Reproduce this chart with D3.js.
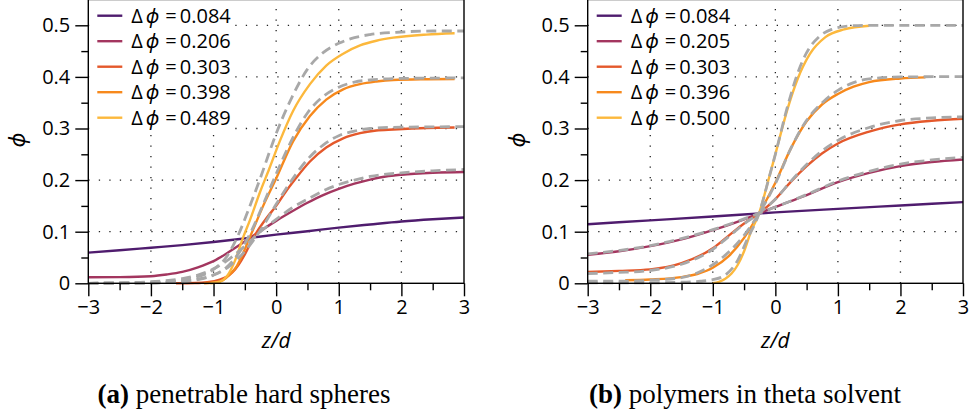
<!DOCTYPE html>
<html><head><meta charset="utf-8">
<script src="https://cdn.jsdelivr.net/npm/d3@7"></script>
<style>
html,body{margin:0;padding:0;background:#fff;}
svg{display:block;}
</style></head>
<body>
<script>
// ---------- data ----------
const zTicks = [-3, -2, -1, 0, 1, 2, 3];
const phiTicks = [0, 0.1, 0.2, 0.3, 0.4, 0.5];
const zMinor = [-2.5, -1.5, -0.5, 0.5, 1.5, 2.5];
const phiMinor = [0.05, 0.15, 0.25, 0.35, 0.45];
const seriesColors = ["#4f1c6e", "#a3365f", "#e4582b", "#f7891c", "#fcb83c"];

// (a) penetrable hard spheres
const aLabels = ["0.084", "0.206", "0.303", "0.398", "0.489"];
const aSolid084 = [[-3,0.0595],[-2.5,0.064],[-2,0.069],[-1.5,0.074],[-1,0.080],[-0.5,0.087],[0,0.0944],[0.5,0.101],[1,0.108],[1.5,0.114],[2,0.1197],[2.5,0.124],[3,0.1274]];
const aSolid206 = [[-3,0.0116],[-2.5,0.012],[-2,0.0138],[-1.75,0.017],[-1.5,0.022],[-1.25,0.031],[-1,0.043],[-0.75,0.061],[-0.5,0.081],[-0.25,0.1015],[0,0.121],[0.25,0.139],[0.5,0.156],[0.75,0.171],[1,0.183],[1.25,0.193],[1.5,0.201],[1.75,0.207],[2,0.2105],[2.5,0.2142],[3,0.2157]];
const aSolid303 = [[-1.6,0.0],[-1.3,0.0005],[-1.1,0.002],[-0.9,0.007],[-0.8,0.012],[-0.7,0.021],[-0.6,0.036],[-0.5,0.056],[-0.4,0.080],[-0.3,0.101],[-0.15,0.127],[0,0.150],[0.15,0.177],[0.3,0.201],[0.54,0.236],[0.8,0.263],[1.07,0.281],[1.34,0.291],[1.6,0.296],[1.87,0.298],[2.4,0.301],[2.85,0.302]];
const aSolid398 = [[-1.15,0.0],[-0.95,0.002],[-0.85,0.006],[-0.75,0.016],[-0.63,0.033],[-0.5,0.066],[-0.365,0.105],[-0.2,0.152],[0,0.203],[0.27,0.275],[0.54,0.324],[0.8,0.356],[1.07,0.376],[1.34,0.386],[1.6,0.391],[1.87,0.394],[2.4,0.3955],[2.85,0.396]];
const aSolid489 = [[-1.05,0.0],[-0.9,0.003],[-0.79,0.013],[-0.66,0.043],[-0.53,0.088],[-0.42,0.122],[-0.26,0.176],[-0.11,0.222],[0.06,0.276],[0.27,0.334],[0.54,0.386],[0.8,0.422],[1.07,0.445],[1.34,0.461],[1.6,0.470],[1.87,0.476],[2.4,0.482],[2.85,0.4845]];
const aDash206 = [[-3,0],[-2.5,0.001],[-2,0.003],[-1.5,0.009],[-1.25,0.016],[-1,0.028],[-0.75,0.047],[-0.5,0.072],[-0.25,0.100],[0,0.124],[0.25,0.146],[0.5,0.163],[0.75,0.179],[1,0.1915],[1.25,0.200],[1.5,0.207],[2,0.214],[2.5,0.218],[3,0.2205]];
const aDash303 = [[-3,0],[-2,0.001],[-1.5,0.004],[-1.25,0.008],[-1,0.016],[-0.75,0.033],[-0.5,0.062],[-0.25,0.103],[0,0.153],[0.25,0.200],[0.5,0.240],[0.75,0.268],[1,0.286],[1.25,0.295],[1.5,0.300],[2,0.3025],[3,0.3035]];
const aDash398 = [[-3,0],[-2,0.0005],[-1.5,0.003],[-1.25,0.007],[-1,0.016],[-0.8,0.030],[-0.6,0.058],[-0.4,0.100],[-0.2,0.155],[0,0.212],[0.25,0.278],[0.5,0.330],[0.75,0.362],[1,0.380],[1.25,0.390],[1.5,0.394],[2,0.397],[3,0.398]];
const aDash489 = [[-3,0],[-2,0.001],[-1.6,0.004],[-1.3,0.011],[-1,0.027],[-0.8,0.050],[-0.6,0.095],[-0.45,0.140],[-0.25,0.205],[0,0.290],[0.25,0.360],[0.5,0.415],[0.75,0.447],[1,0.465],[1.25,0.476],[1.5,0.482],[2,0.487],[2.5,0.489],[3,0.489]];

// (b) polymers in theta solvent
const bLabels = ["0.084", "0.205", "0.303", "0.396", "0.500"];
const bSolid084 = [[-3,0.1145],[-2,0.122],[-1,0.1295],[0,0.1375],[1,0.1443],[2,0.1508],[3,0.1573]];
const bSolid205 = [[-3,0.055],[-2.5,0.062],[-2,0.072],[-1.5,0.085],[-1,0.103],[-0.5,0.124],[-0.26,0.1357],[0,0.148],[0.5,0.171],[1,0.196],[1.5,0.214],[2,0.227],[2.5,0.235],[3,0.240]];
const bSolid303 = [[-3,0.022],[-2.5,0.024],[-2,0.027],[-1.5,0.039],[-1,0.068],[-0.75,0.092],[-0.5,0.116],[-0.26,0.1357],[0,0.163],[0.25,0.197],[0.5,0.227],[0.75,0.252],[1,0.271],[1.5,0.294],[2,0.308],[2.5,0.315],[3,0.319]];
const bSolid396 = [[-2.4,0.006],[-2,0.0075],[-1.5,0.012],[-1.25,0.018],[-1,0.030],[-0.75,0.052],[-0.5,0.088],[-0.26,0.1357],[0,0.195],[0.25,0.262],[0.5,0.314],[0.75,0.347],[1,0.367],[1.25,0.381],[1.5,0.390],[2,0.397],[2.4,0.399]];
const bSolid500 = [[-1.0,0.0],[-0.9,0.003],[-0.8,0.009],[-0.7,0.019],[-0.6,0.036],[-0.5,0.062],[-0.4,0.097],[-0.26,0.1357],[-0.1,0.205],[0,0.250],[0.2,0.340],[0.35,0.394],[0.55,0.444],[0.8,0.477],[1.1,0.492],[1.5,0.499]];
const bDash205 = [[-3,0.057],[-2,0.073],[-1,0.104],[-0.26,0.1357],[0.5,0.172],[1,0.198],[1.5,0.217],[2,0.231],[2.5,0.239],[3,0.244]];
const bDash303 = [[-3,0.019],[-2.5,0.021],[-2,0.025],[-1.5,0.037],[-1,0.066],[-0.75,0.090],[-0.5,0.115],[-0.26,0.1357],[0,0.163],[0.25,0.198],[0.5,0.230],[0.75,0.257],[1,0.277],[1.5,0.302],[2,0.3155],[2.5,0.3205],[3,0.3225]];
const bDash396 = [[-3,0.004],[-2.5,0.004],[-2,0.006],[-1.5,0.011],[-1.25,0.020],[-1,0.036],[-0.75,0.060],[-0.5,0.093],[-0.26,0.1357],[0,0.193],[0.25,0.262],[0.5,0.316],[0.75,0.350],[1,0.374],[1.25,0.389],[1.5,0.396],[2,0.400],[3,0.4005]];
const bDash500 = [[-3,0.001],[-2,0.001],[-1.5,0.002],[-1.2,0.004],[-1,0.007],[-0.8,0.016],[-0.6,0.045],[-0.45,0.085],[-0.26,0.1357],[-0.1,0.205],[0,0.250],[0.2,0.345],[0.35,0.405],[0.5,0.447],[0.7,0.478],[0.9,0.492],[1.2,0.499],[1.5,0.500],[3,0.500]];

const panels = [
  {x0: 88.3, x1: 464, labels: aLabels,
   solids: [aSolid084, aSolid206, aSolid303, aSolid398, aSolid489],
   dashes: [aDash206, aDash303, aDash398, aDash489],
   capTag: "(a)", capText: " penetrable hard spheres", capX: 244},
  {x0: 587.7, x1: 963, labels: bLabels,
   solids: [bSolid084, bSolid205, bSolid303, bSolid396, bSolid500],
   dashes: [bDash205, bDash303, bDash396, bDash500],
   capTag: "(b)", capText: " polymers in theta solvent", capX: 745}
];

// ---------- drawing ----------
const W = 971, H = 419;
const svg = d3.select("body").append("svg").attr("width", W).attr("height", H)
  .attr("font-family", "'Open Sans', 'Noto Sans', 'DejaVu Sans', sans-serif");

const yTop = -0.5, yBot = 283.3;
const y = d3.scaleLinear().domain([0, 0.55]).range([yBot, yTop]);
const fs = 20;

panels.forEach(p => {
  const x = d3.scaleLinear().domain([-3, 3]).range([p.x0, p.x1]);
  const g = svg.append("g");

  // grid
  const grid = g.append("g").attr("stroke", "#222").attr("stroke-width", 1.3)
    .attr("stroke-dasharray", "1.3,9.2");
  grid.selectAll("line.v").data(zTicks.slice(1, -1)).join("line")
    .attr("x1", d => x(d)).attr("x2", d => x(d)).attr("y1", yBot).attr("y2", yTop);
  grid.selectAll("line.h").data(phiTicks.slice(1)).join("line")
    .attr("x1", p.x0).attr("x2", p.x1).attr("y1", d => y(d)).attr("y2", d => y(d));

  // legend background
  const lg = g.append("g");
  lg.append("rect").attr("x", p.x0 + 1).attr("y", 0).attr("width", 144).attr("height", 133).attr("fill", "#fff");

  // curves
  const line = d3.line().x(d => x(d[0])).y(d => y(d[1])).curve(d3.curveMonotoneX);
  g.append("g").selectAll("path").data(p.solids).join("path")
    .attr("d", line).attr("fill", "none")
    .attr("stroke", (d, i) => seriesColors[i]).attr("stroke-width", 2.4);
  g.append("g").selectAll("path").data(p.dashes).join("path")
    .attr("d", line).attr("fill", "none")
    .attr("stroke", "#a8a8a8").attr("stroke-width", 2.8).attr("stroke-dasharray", "10,5.5");

  // legend entries
  p.labels.forEach((lab, i) => {
    const ry = 15.7 + i * 25.5;
    lg.append("line").attr("x1", p.x0 + 9).attr("x2", p.x0 + 34).attr("y1", ry).attr("y2", ry)
      .attr("stroke", seriesColors[i]).attr("stroke-width", 2.4);
    const t = lg.append("text").attr("y", ry + 7).attr("font-size", fs).attr("fill", "#000");
    t.append("tspan").attr("x", p.x0 + 43).text("Δ");
    t.append("tspan").attr("x", p.x0 + 57.5).attr("font-style", "italic").text("ϕ");
    t.append("tspan").attr("x", p.x0 + 77).text("=");
    t.append("tspan").attr("x", p.x0 + 91.5).text(lab);
  });

  // axes
  const xAxis = d3.axisBottom(x).tickValues(zTicks).tickSize(13).tickPadding(4).tickFormat(d3.format("d"));
  const yAxis = d3.axisLeft(y).tickValues(phiTicks).tickSize(13).tickPadding(5)
    .tickFormat(d => d === 0 ? "0" : d3.format(".1f")(d));
  const gx = g.append("g").attr("transform", `translate(0,${yBot})`).call(xAxis);
  const gy = g.append("g").attr("transform", `translate(${p.x0},0)`).call(yAxis);
  const gxm = g.append("g").attr("transform", `translate(0,${yBot})`)
    .call(d3.axisBottom(x).tickValues(zMinor).tickSize(7).tickFormat(""));
  const gym = g.append("g").attr("transform", `translate(${p.x0},0)`)
    .call(d3.axisLeft(y).tickValues(phiMinor).tickSize(7).tickFormat(""));
  [gx, gy, gxm, gym].forEach(a => {
    a.select(".domain").remove();
    a.selectAll(".tick line").attr("stroke", "#000").attr("stroke-width", 1.4);
    a.selectAll("text").attr("font-size", fs).attr("fill", "#000")
      .attr("font-family", "'Open Sans', 'Noto Sans', sans-serif");
  });

  // frame
  g.append("rect").attr("x", p.x0).attr("y", yTop).attr("width", p.x1 - p.x0).attr("height", yBot - yTop)
    .attr("fill", "none").attr("stroke", "#000").attr("stroke-width", 1.4);

  // axis labels
  g.append("text").attr("x", (p.x0 + p.x1) / 2).attr("y", 348).attr("text-anchor", "middle")
    .attr("font-size", 21).attr("font-style", "italic").attr("fill", "#000").text("z/d");
  g.append("text").attr("transform", `translate(${p.x0 - 63},140) rotate(-90)`)
    .attr("text-anchor", "middle").attr("font-size", 22).attr("font-style", "italic")
    .attr("fill", "#000").text("ϕ");

  // caption
  const c = g.append("text").attr("x", p.capX).attr("y", 403).attr("text-anchor", "middle")
    .attr("font-family", "'Liberation Serif', 'DejaVu Serif', serif").attr("font-size", 27).attr("fill", "#000");
  c.append("tspan").attr("font-weight", "bold").text(p.capTag);
  c.append("tspan").text(p.capText);
});
</script>
</body></html>
